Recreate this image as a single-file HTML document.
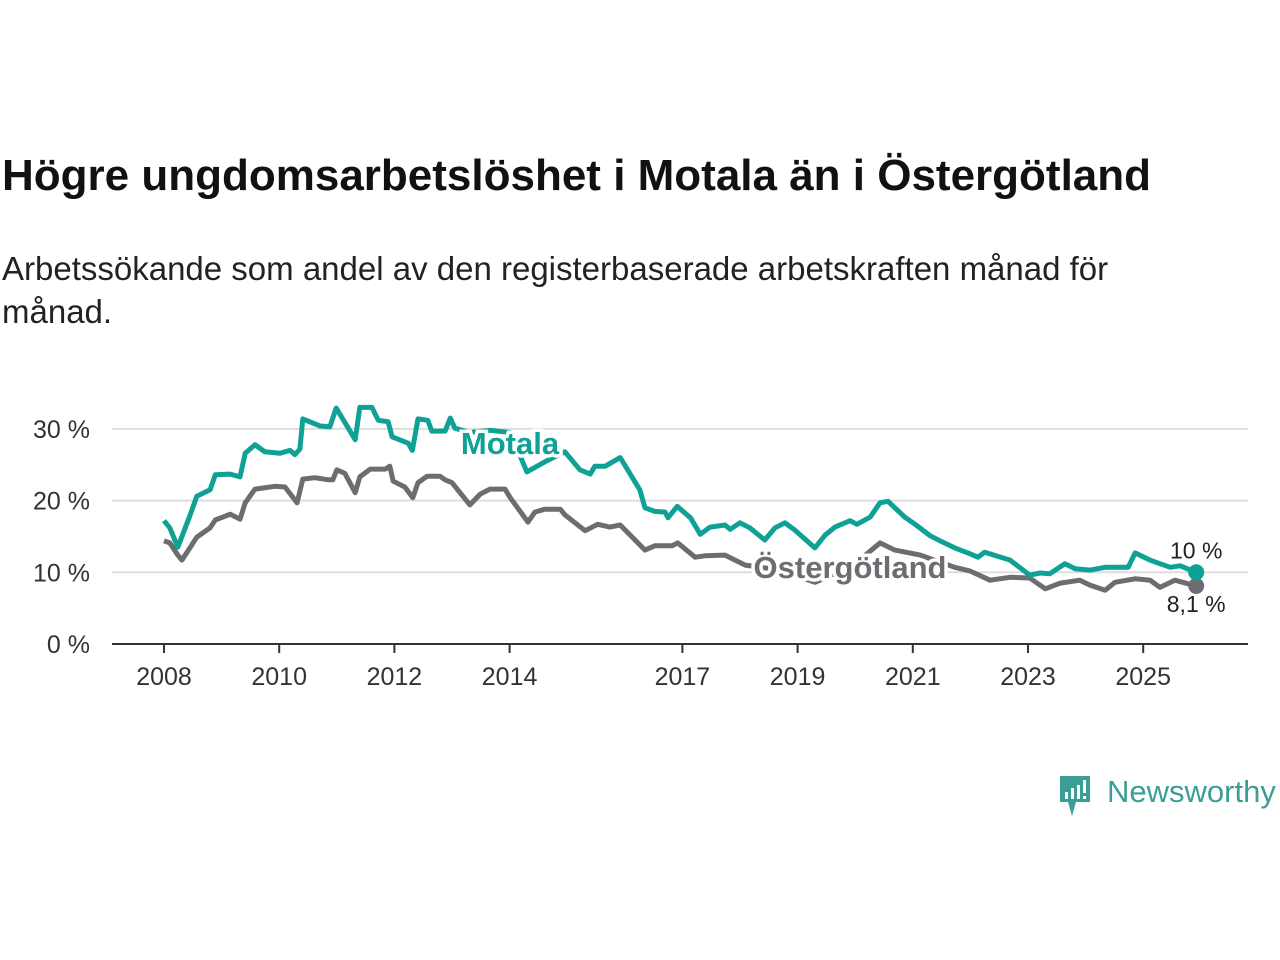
<!DOCTYPE html>
<html><head><meta charset="utf-8">
<style>
body{margin:0;width:1280px;height:960px;background:#fff;font-family:"Liberation Sans",sans-serif;position:relative;overflow:hidden}
#title{position:absolute;left:2px;top:151px;font-size:44px;font-weight:bold;color:#111;white-space:nowrap}
#sub{position:absolute;left:2px;top:247px;font-size:33px;line-height:43px;color:#222;width:1180px}
svg{position:absolute;left:0;top:0}
</style></head><body>
<div id="title">Högre ungdomsarbetslöshet i Motala än i Östergötland</div>
<div id="sub">Arbetssökande som andel av den registerbaserade arbetskraften månad för månad.</div>
<svg id="chart" width="1280" height="960"></svg>
<svg width="1280" height="960">
<path d="M1060 776 h30 v26 h-14 l-4 14 l-4 -14 h-8 z" fill="#3a9e96"/>
<rect x="1065" y="792" width="3" height="7" fill="#fff"/><rect x="1071" y="788" width="3" height="11" fill="#fff"/><rect x="1077" y="785" width="3" height="14" fill="#fff"/><rect x="1083" y="780" width="3" height="13" fill="#fff"/><rect x="1083" y="796" width="3" height="3" fill="#fff"/>
<text x="1107" y="802" font-size="31" fill="#3a9e96" font-family="Liberation Sans, sans-serif">Newsworthy</text>
</svg>
<script>
const yTicks=[0,10,20,30];
const xTickYears=[2008,2010,2012,2014,2017,2019,2021,2023,2025];
const motalaYears=[2008.00,2008.10,2008.24,2008.36,2008.45,2008.57,2008.80,2008.89,2009.15,2009.32,2009.41,2009.58,2009.75,2010.01,2010.19,2010.27,2010.36,2010.41,2010.71,2010.88,2010.99,2011.32,2011.40,2011.61,2011.72,2011.89,2011.96,2012.24,2012.31,2012.41,2012.58,2012.65,2012.88,2012.97,2013.05,2013.31,2013.66,2014.01,2014.30,2014.61,2014.96,2015.22,2015.40,2015.48,2015.66,2015.92,2016.26,2016.35,2016.52,2016.70,2016.75,2016.91,2017.14,2017.31,2017.48,2017.74,2017.83,2018.00,2018.17,2018.43,2018.61,2018.78,2018.95,2019.30,2019.48,2019.65,2019.91,2020.03,2020.26,2020.43,2020.57,2020.86,2021.04,2021.30,2021.47,2021.73,2021.99,2022.13,2022.25,2022.69,2023.03,2023.21,2023.38,2023.64,2023.82,2024.08,2024.34,2024.74,2024.86,2025.12,2025.29,2025.47,2025.64,2025.92];
const motalaValues=[17.2,16.2,13.5,16,17.9,20.6,21.5,23.6,23.7,23.3,26.6,27.8,26.8,26.6,27,26.4,27.2,31.4,30.4,30.3,32.9,28.5,33,33,31.2,31,28.9,28,27,31.4,31.2,29.7,29.7,31.5,30.1,29.5,29.8,29.5,24,25.4,26.8,24.3,23.7,24.8,24.8,26,21.5,19,18.5,18.4,17.6,19.2,17.6,15.3,16.3,16.6,16,16.9,16.2,14.5,16.2,16.9,15.9,13.4,15.2,16.3,17.2,16.7,17.7,19.7,19.9,17.7,16.7,15.1,14.4,13.4,12.6,12.1,12.8,11.7,9.6,9.9,9.8,11.2,10.5,10.3,10.7,10.7,12.7,11.7,11.2,10.7,10.9,10.0];
const ostYears=[2008.00,2008.10,2008.24,2008.31,2008.45,2008.57,2008.80,2008.89,2009.15,2009.32,2009.41,2009.58,2009.93,2010.10,2010.31,2010.41,2010.62,2010.85,2010.93,2011.00,2011.14,2011.32,2011.40,2011.58,2011.84,2011.92,2011.98,2012.18,2012.32,2012.41,2012.57,2012.79,2012.88,2013.00,2013.31,2013.49,2013.66,2013.92,2014.01,2014.32,2014.44,2014.61,2014.88,2014.96,2015.31,2015.53,2015.74,2015.92,2016.35,2016.52,2016.82,2016.92,2017.22,2017.39,2017.74,2018.09,2018.69,2019.30,2019.91,2020.43,2020.69,2021.13,2021.73,2021.99,2022.34,2022.69,2023.03,2023.30,2023.56,2023.90,2024.08,2024.34,2024.51,2024.86,2025.12,2025.29,2025.55,2025.92];
const ostValues=[14.4,14.1,12.4,11.7,13.4,14.9,16.2,17.3,18.1,17.4,19.7,21.6,22,21.9,19.7,23,23.2,22.9,22.9,24.3,23.8,21.1,23.3,24.4,24.4,24.8,22.7,21.9,20.4,22.5,23.4,23.4,22.9,22.5,19.4,20.9,21.6,21.6,20.4,17,18.4,18.8,18.8,18,15.8,16.7,16.3,16.6,13.1,13.7,13.7,14.1,12.1,12.3,12.4,11,10.3,8.6,10.6,14.1,13.1,12.4,10.7,10.2,8.9,9.3,9.2,7.7,8.5,8.9,8.2,7.5,8.6,9.1,8.9,7.9,8.9,8.1];
const X=y=>164+(y-2008)*57.6;
const Y=v=>644-v*7.17;
const NS='http://www.w3.org/2000/svg';
const svg=document.getElementById('chart');
function mk(t,a,txt){const e=document.createElementNS(NS,t);for(const k in a)e.setAttribute(k,a[k]);if(txt!=null)e.textContent=txt;svg.appendChild(e);return e;}
yTicks.forEach(v=>{
 const g=mk('line',{x1:112,x2:1248,y1:Y(v),y2:Y(v),stroke:v===0?'#333':'#ddd','stroke-width':2});
 
 
 const t=mk('text',{x:90,y:Y(v)+9,'text-anchor':'end','font-size':25,fill:'#333'},v+' %');
 
 
});
xTickYears.forEach(yr=>{
 const l=mk('line',{x1:X(yr),x2:X(yr),y1:644,y2:653,stroke:'#333','stroke-width':2});
 
 
 const t=mk('text',{x:X(yr),y:685,'text-anchor':'middle','font-size':25,fill:'#333'},String(yr));
 
 
});
function line(ys,vs,color,name){
 const d=ys.map((y,i)=>(i?'L':'M')+X(y).toFixed(1)+' '+Y(vs[i]).toFixed(1)).join(' ');
 const p=mk('path',{d:d,fill:'none',stroke:color,'stroke-width':5,'stroke-linejoin':'round'});
 
 
}
line(ostYears,ostValues,'#6d6c71','ostergotland-line');
line(motalaYears,motalaValues,'#0fa195','motala-line');
const lm=mk('text',{x:510,y:454,'text-anchor':'middle','font-size':31,'font-weight':'bold',fill:'#0fa195',stroke:'#fff','stroke-width':7,'paint-order':'stroke'},'Motala');


const lo=mk('text',{x:850,y:578,'text-anchor':'middle','font-size':31,'font-weight':'bold',fill:'#6d6c71',stroke:'#fff','stroke-width':7,'paint-order':'stroke'},'Östergötland');


const n=ostYears.length-1,m=motalaYears.length-1;
const d1=mk('circle',{cx:X(ostYears[n]),cy:Y(ostValues[n]),r:8,fill:'#6d6c71'});


const d2=mk('circle',{cx:X(motalaYears[m]),cy:Y(motalaValues[m]),r:8,fill:'#0fa195'});


const e1=mk('text',{x:X(motalaYears[m]),y:Y(motalaValues[m])-14,'text-anchor':'middle','font-size':23,fill:'#222'},'10 %');


const e2=mk('text',{x:X(ostYears[n]),y:Y(ostValues[n])+26,'text-anchor':'middle','font-size':23,fill:'#222'},'8,1 %');


</script>
</body></html>
